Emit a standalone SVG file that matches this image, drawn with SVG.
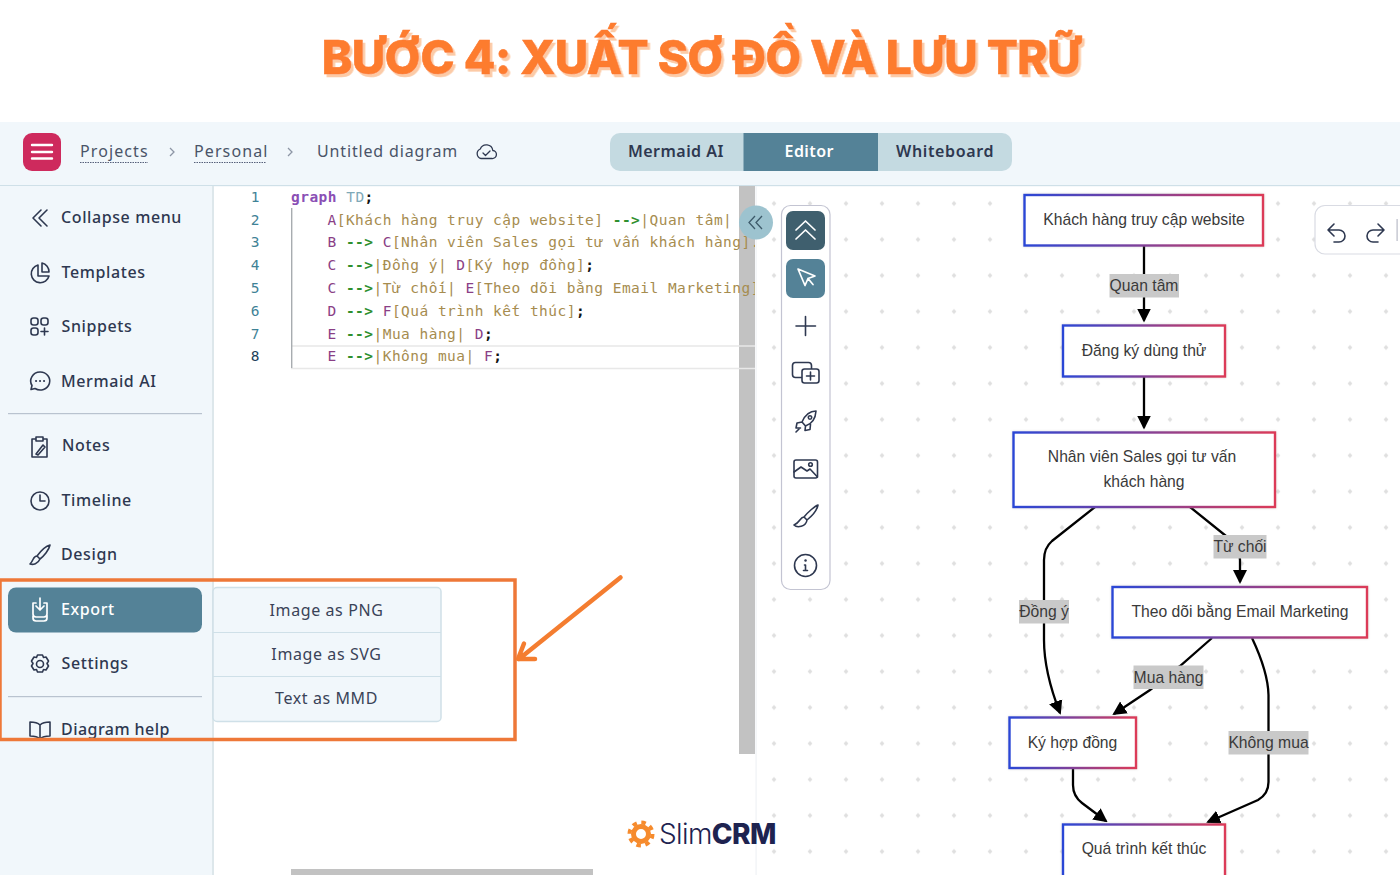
<svg xmlns="http://www.w3.org/2000/svg" width="1400" height="875" viewBox="0 0 1400 875">
<style>
text{font-family:"Noto Sans","Liberation Sans",sans-serif}
.ui{font-size:16px;font-weight:500;fill:#2e3850;letter-spacing:.6px}
.hd{font-size:16px;fill:#4a5468;letter-spacing:1.1px}
.tab{font-size:16px;font-weight:600;fill:#2e3850;letter-spacing:.45px}
.sub{font-size:16px;fill:#3a4358;text-anchor:middle;letter-spacing:.6px}
.ic{fill:none;stroke:#2e3850;stroke-width:1.6;stroke-linecap:round;stroke-linejoin:round}
.icw{fill:none;stroke:#fff;stroke-width:1.7;stroke-linecap:round;stroke-linejoin:round}
.code text,text.code{font-family:"DejaVu Sans Mono","Liberation Mono",monospace;font-size:14.5px;letter-spacing:.47px;fill:#a68c4f}
.ln{font-family:"DejaVu Sans Mono",monospace;font-size:14.5px;fill:#3f8296;text-anchor:middle}
.id{fill:#8a3f86}
.ar{fill:#2f8f2f;font-weight:700}
.se{fill:#111;font-weight:700}
.n{fill:#fff;stroke:url(#g);stroke-width:2.4;filter:url(#ns)}
.nt{font-family:"Liberation Sans",Arial,sans-serif;font-size:15.7px;fill:#3a3a3a;text-anchor:middle}
.e{fill:none;stroke:#000;stroke-width:2.3;marker-end:url(#ah)}
.lb{fill:#c9c9c9}
</style>
<defs>
<linearGradient id="g" x1="0" x2="1" y1="0" y2="0"><stop offset="0" stop-color="#2a47d6"/><stop offset="1" stop-color="#dc3a58"/></linearGradient>
<filter id="ns" x="-5%" y="-15%" width="110%" height="130%"><feDropShadow dx="0" dy="0" stdDeviation="1.2" flood-color="#888" flood-opacity=".35"/></filter>
<filter id="ts" x="-2%" y="-10%" width="104%" height="125%"><feDropShadow dx="2.5" dy="3" stdDeviation="0" flood-color="#fccaa6"/></filter>
<marker id="ah" markerUnits="userSpaceOnUse" markerWidth="14" markerHeight="15" viewBox="0 0 14 15" refX="12" refY="7.5" orient="auto"><path d="M0,0.5 L14,7.5 L0,14.5z" fill="#000"/></marker>
<pattern id="dots" patternUnits="userSpaceOnUse" x="756" y="185.5" width="36" height="36"><path d="M18,15.5 L20.5,18 L18,20.5 L15.5,18z" fill="#dfdfdf"/></pattern>
<clipPath id="cc"><rect x="214" y="186" width="541" height="200"/></clipPath>
</defs>

<rect width="1400" height="875" fill="#fff"/>
<text id="title" x="701" y="74" text-anchor="middle" style="font-family:Inter,'Liberation Sans',sans-serif;font-size:46px;font-weight:800;letter-spacing:-.5px;fill:#fd7b2f;stroke:#fd7b2f;stroke-width:.6;filter:url(#ts)">BƯỚC 4: XUẤT SƠ ĐỒ VÀ LƯU TRỮ</text>

<g id="header">
<rect x="0" y="122" width="1400" height="63" fill="#f1f7fb"/>
<rect x="0" y="185" width="1400" height="1.2" fill="#cfe0e8"/>
<g id="menu-button"><rect x="23" y="133" width="38" height="38" rx="9" fill="#ce2a5d"/><path d="M32,145H52M32,152H52M32,158.500H52" stroke="#fff" stroke-width="2.4" stroke-linecap="round"/></g>
<text class="hd" x="80" y="157">Projects</text><path d="M80,162.500H148" stroke="#56607a" stroke-width="1.2" stroke-dasharray="1.500 1"/>
<path d="M170,148L174,152L170,156" fill="none" stroke="#8d96a5" stroke-width="1.300"/>
<text class="hd" x="194" y="157">Personal</text><path d="M194,162.500H266" stroke="#56607a" stroke-width="1.2" stroke-dasharray="1.500 1"/>
<path d="M288,148L292,152L288,156" fill="none" stroke="#8d96a5" stroke-width="1.300"/>
<text class="hd" x="317" y="157" style="letter-spacing:.85px">Untitled diagram</text>
<g class="ic" style="stroke-width:1.300"><path d="M481,158.500h11a4,4 0 0 0 .8,-8a6.500,6.500 0 0 0 -12.500,-1.500a5,5 0 0 0 .7,9.500z"/><path d="M483,153l2.500,2.500l4.500,-4.500"/></g>
<g id="tabs">
<rect x="610" y="133" width="402" height="38" rx="10" fill="#c4dae1"/>
<rect x="743.500" y="133" width="134.500" height="38" fill="#548297"/>
<text class="tab" x="628" y="157">Mermaid AI</text>
<text class="tab" x="784.500" y="157" style="fill:#fff">Editor</text>
<text class="tab" x="896" y="157" style="letter-spacing:.65px">Whiteboard</text>
</g>
</g>

<g id="sidebar">
<rect x="0" y="186" width="212" height="689" fill="#f1f7fb"/>
<rect x="212" y="186" width="2" height="689" fill="#dde7eb"/>
<g id="collapse-menu"><path class="ic" d="M41,210L33,218L41,226M47,210L39,218L47,226"/><text class="ui" x="61" y="223">Collapse menu</text></g>
<g id="templates"><path class="ic" d="M38,265a9,9 0 1 0 11,11h-11zM42,263v9h7a9,9 0 0 0 -7,-9z"/><text class="ui" x="61.500" y="278">Templates</text></g>
<g id="snippets"><g class="ic"><rect x="31" y="318" width="7" height="7" rx="2.500"/><rect x="41" y="318" width="7" height="7" rx="2.500"/><rect x="31" y="328" width="7" height="7" rx="2.500"/><path d="M44.500,328v7M41,331.500h7"/></g><text class="ui" x="61.500" y="332">Snippets</text></g>
<g id="mermaid-ai"><path class="ic" d="M40,372a9.500,9 0 1 1 -5,16.500l-4,1l1,-4a9.500,9 0 0 1 8,-13.500z"/><path d="M36,381h.1M40,381h.1M44,381h.1" stroke="#2e3850" stroke-width="2" stroke-linecap="round"/><text class="ui" x="61" y="387">Mermaid AI</text></g>
<rect x="8" y="413" width="194" height="1.200" fill="#b9c3cf"/>
<g id="notes"><path class="ic" d="M36,439h-4v18h15v-18h-4M36,437h7v4h-7zM36,454l7,-9l2,2l-7,8z"/><text class="ui" x="62" y="451">Notes</text></g>
<g id="timeline"><circle class="ic" cx="40" cy="501" r="9"/><path class="ic" d="M40,495v6h5"/><text class="ui" x="61.500" y="506">Timeline</text></g>
<g id="design"><path class="ic" d="M50,545c-4,1 -10,7 -13,11l3,3c4,-3 9,-9 10,-14zM37,556c-4,0 -3,4 -7,8c3,1 8,0 10,-5"/><text class="ui" x="61" y="560">Design</text></g>
<rect id="export-bg" x="8" y="587.500" width="194" height="45" rx="8" fill="#548297"/>
<g id="export"><path class="icw" d="M40,598v12M36,606l4,4l4,-4M36,603h-3v11a3,3 0 0 0 3,3h8a3,3 0 0 0 3,-3v-11h-3M33,616v2a3,3 0 0 0 3,3h8a3,3 0 0 0 3,-3v-3"/><text class="ui" x="61" y="615" style="fill:#fff">Export</text></g>
<g id="settings"><circle class="ic" cx="40" cy="664" r="3.500"/><path class="ic" d="M37.500,655h5l1,2.500l2.500,-.5l2.500,4l-1.500,2.500l1.500,2.500l-2.500,4l-2.500,-.5l-1,2.500h-5l-1,-2.500l-2.500,.5l-2.500,-4l1.500,-2.500l-1.500,-2.500l2.500,-4l2.500,.5z"/><text class="ui" x="61.500" y="669">Settings</text></g>
<rect x="8" y="696" width="194" height="1.200" fill="#b9c3cf"/>
<g id="diagram-help"><path class="ic" d="M40,725c-2,-2 -6,-3 -10,-3v14c4,0 8,1 10,3c2,-2 6,-3 10,-3v-14c-4,0 -8,1 -10,3zM40,725v14"/><text class="ui" x="61" y="735" style="letter-spacing:.45px">Diagram help</text></g>
</g>

<g id="export-submenu">
<rect x="213" y="587.500" width="228" height="134" rx="4" fill="#f1f7fb" stroke="#cfe0e8" stroke-width="1.500"/>
<path d="M213,632.500H441M213,676.500H441" stroke="#cfe0e8" stroke-width="1.200"/>
<text class="sub" x="326.500" y="616">Image as PNG</text>
<text class="sub" x="326.500" y="660">Image as SVG</text>
<text class="sub" x="326.500" y="704">Text as MMD</text>
</g>

<g id="editor">
<rect x="739" y="186" width="16" height="568" fill="#c2c2c2"/>
<rect x="291" y="869" width="302" height="6" fill="#c2c2c2"/>
<path d="M291,346H755M291,368.500H755" stroke="#e8e8e8" stroke-width="1.300"/>
<rect x="291" y="208" width="1.400" height="160" fill="#a8acb0"/>
<text class="ln" x="255" y="202">1</text><text class="ln" x="255" y="224.500">2</text><text class="ln" x="255" y="247">3</text><text class="ln" x="255" y="269.500">4</text><text class="ln" x="255" y="292.500">5</text><text class="ln" x="255" y="315.500">6</text><text class="ln" x="255" y="338.500">7</text><text class="ln" x="255" y="361" style="fill:#1d3f5a">8</text>
<g class="code" clip-path="url(#cc)">
<text x="291" y="202"><tspan style="fill:#8a4fb5;font-weight:700">graph</tspan> <tspan style="fill:#7fa9b8">TD</tspan><tspan class="se">;</tspan></text>
<text x="327.500" y="224.500"><tspan class="id">A</tspan>[Khách hàng truy cập website] <tspan class="ar">--&gt;</tspan>|Quan tâm|</text>
<text x="327.500" y="247"><tspan class="id">B</tspan> <tspan class="ar">--&gt;</tspan> <tspan class="id">C</tspan>[Nhân viên Sales gọi tư vấn khách hàng].</text>
<text x="327.500" y="269.500"><tspan class="id">C</tspan> <tspan class="ar">--&gt;</tspan>|Đồng ý| <tspan class="id">D</tspan>[Ký hợp đồng]<tspan class="se">;</tspan></text>
<text x="327.500" y="292.500"><tspan class="id">C</tspan> <tspan class="ar">--&gt;</tspan>|Từ chối| <tspan class="id">E</tspan>[Theo dõi bằng Email Marketing]</text>
<text x="327.500" y="315.500"><tspan class="id">D</tspan> <tspan class="ar">--&gt;</tspan> <tspan class="id">F</tspan>[Quá trình kết thúc]<tspan class="se">;</tspan></text>
<text x="327.500" y="338.500"><tspan class="id">E</tspan> <tspan class="ar">--&gt;</tspan>|Mua hàng| <tspan class="id">D</tspan><tspan class="se">;</tspan></text>
<text x="327.500" y="361"><tspan class="id">E</tspan> <tspan class="ar">--&gt;</tspan>|Không mua| <tspan class="id">F</tspan><tspan class="se">;</tspan></text>
</g>
</g>

<g id="canvas">
<rect x="756" y="186" width="644" height="689" fill="url(#dots)"/>
<rect x="755.500" y="186" width="1.200" height="689" fill="#f0f2f5"/>
</g>

<g id="collapse-handle"><circle cx="756" cy="222.500" r="17" fill="#9dc3cf"/><path d="M755,216L749,222.500L755,229M762,216L756,222.500L762,229" fill="none" stroke="#3d5a6a" stroke-width="1.300"/></g>

<g id="toolbar">
<rect x="781.500" y="205.500" width="48.500" height="384" rx="9" fill="#fff" stroke="#c3c4d2" stroke-width="1.200"/>
<rect x="786" y="211" width="39" height="39" rx="7" fill="#3f5f6e"/>
<path d="M796,230l9.500,-9l9.500,9M796,239l9.500,-9l9.500,9" class="icw"/>
<rect x="786" y="259" width="39" height="39" rx="7" fill="#548297"/>
<path d="M798,269l17,7l-7,2.500l-3,7zM808,278.500l5,6" class="icw"/>
<path d="M796,326h19.500M805.500,316.500v19" class="ic"/>
<g class="ic"><rect x="792.500" y="362.500" width="19" height="15" rx="3"/><rect x="802" y="369" width="17" height="14" rx="2.500" fill="#fff"/><path d="M810.500,372v8M806.500,376h8"/></g>
<g class="ic"><path d="M816,411c-6,0 -11,4 -14,11l3.500,4c6,-2 10,-7 10.500,-15zM802,422l-5,1l-1,5h4.500M805.500,426l-.5,4.500l5,-1l.5,-5"/><circle cx="810" cy="417.500" r="1.700"/><path d="M796,432l3,-3"/></g>
<g class="ic"><rect x="794" y="460" width="23.500" height="18" rx="2"/><path d="M794,472l7,-5l6,4l3,-2l7.500,8"/><circle cx="810.500" cy="464.500" r="1.800"/></g>
<g class="ic"><path d="M818,505c-3,1 -10,7 -14,12l3,3c5,-4 10,-10 11,-15zM804,517c-4,0 -4,6 -10,8c3,3 12,2 13,-5"/></g>
<g class="ic"><circle cx="805.500" cy="565.500" r="11"/><path d="M805.500,565v5.500M803.500,570.500h4M804.500,565h1" /><path d="M805.500,560.500h.1" stroke-width="2.400"/></g>
</g>

<g id="history">
<path d="M1400,205.500H1325a10,10 0 0 0 -10,10V244a10,10 0 0 0 10,10H1400" fill="#fff" stroke="#d9dbe3" stroke-width="1.200"/>
<g class="ic"><path d="M1334,224l-6,6l6,6M1328,230h11a6,6 0 0 1 0,12h-5" /><path d="M1378,224l6,6l-6,6M1384,230h-11a6,6 0 0 0 0,12h5"/></g>
<rect x="1396.500" y="219" width="1.200" height="22" fill="#b9bcc8"/>
</g>

<g id="connectors">
<path class="e" d="M1144,246V320.500"/>
<path class="e" d="M1144,377V427.500"/>
<path class="e" d="M1095,507L1052,541Q1044,548 1044,560V640Q1044,672 1060,713"/>
<path class="e" d="M1190,507L1226,536Q1240,546 1240,560V582"/>
<path class="e" d="M1212,638L1180,666Q1170,674 1150,690L1114,714"/>
<path class="e" d="M1252,638Q1268,672 1268.500,695V782Q1268.500,794 1258,800L1208,822"/>
<path class="e" d="M1073,769V785Q1073,796 1082,803L1106,821"/>
<g id="edge-labels">
<rect class="lb" x="1109.500" y="274" width="69.500" height="23.500"/><text class="nt" x="1144" y="291">Quan tâm</text>
<rect class="lb" x="1213.500" y="535" width="53" height="23.500"/><text class="nt" x="1240" y="552">Từ chối</text>
<rect class="lb" x="1019" y="600" width="50" height="23.500"/><text class="nt" x="1044" y="617">Đồng ý</text>
<rect class="lb" x="1133.500" y="665.500" width="70" height="23.500"/><text class="nt" x="1168.500" y="682.500">Mua hàng</text>
<rect class="lb" x="1228.500" y="731" width="80" height="23.500"/><text class="nt" x="1268.500" y="748">Không mua</text>
</g>
</g>

<g id="node-a"><rect class="n" x="1024.500" y="195" width="238.500" height="50.500"/><text class="nt" x="1144" y="225">Khách hàng truy cập website</text></g>
<g id="node-b"><rect class="n" x="1063" y="325.500" width="162" height="51"/><text class="nt" x="1144" y="356">Đăng ký dùng thử</text></g>
<g id="node-c"><rect class="n" x="1013.500" y="432.500" width="261.500" height="74.500"/><text class="nt" x="1142" y="462">Nhân viên Sales gọi tư vấn</text><text class="nt" x="1144" y="486.500">khách hàng</text></g>
<g id="node-e"><rect class="n" x="1112.500" y="587" width="254.500" height="50.500"/><text class="nt" x="1240" y="617">Theo dõi bằng Email Marketing</text></g>
<g id="node-d"><rect class="n" x="1009.500" y="717.500" width="126.500" height="50.500"/><text class="nt" x="1072.500" y="748">Ký hợp đồng</text></g>
<g id="node-f"><rect class="n" x="1063" y="824.500" width="162" height="60"/><text class="nt" x="1144" y="854">Quá trình kết thúc</text></g>

<g id="highlight">
<rect x="0" y="580" width="515" height="159.500" fill="none" stroke="#ee7838" stroke-width="3.500"/>
<path d="M620.500,577.500L519,659M524,643.500L518,659L535,659" fill="none" stroke="#f47d30" stroke-width="4.500" stroke-linecap="round" stroke-linejoin="round"/>
</g>

<g id="logo">
<circle cx="641" cy="834" r="11.500" fill="none" stroke="#f68b2d" stroke-width="4" stroke-dasharray="4.500 4.530"/>
<circle cx="641" cy="834" r="7.500" fill="none" stroke="#f68b2d" stroke-width="5"/>
<text x="659" y="844" style="font-family:Inter,'Liberation Sans',sans-serif;font-size:28px;font-weight:300;fill:#1e2350;letter-spacing:-.6px">Slim<tspan style="font-weight:800">CRM</tspan></text>
</g>
</svg>
